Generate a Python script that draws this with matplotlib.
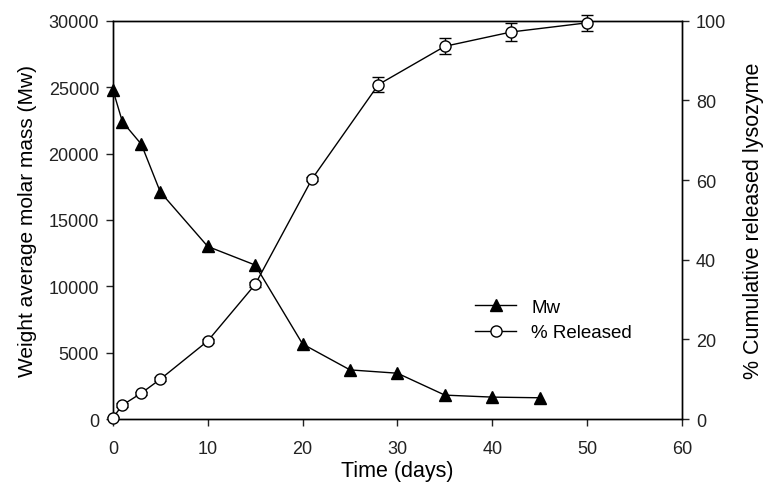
import matplotlib
matplotlib.use("Agg")
import matplotlib.pyplot as plt
from matplotlib.lines import Line2D

plt.rcParams['font.family'] = ['Liberation Sans', 'DejaVu Sans']

mw_days = [0, 1, 3, 5, 10, 15, 20, 25, 30, 35, 40, 45]
mw_vals = [24800, 22400, 20700, 17100, 13000, 11600, 5650, 3700, 3450, 1800, 1650, 1600]

rel_days = [0, 1, 3, 5, 10, 15, 21, 28, 35, 42, 50]
rel_vals = [0.3, 3.5, 6.5, 10.0, 19.6, 33.8, 60.3, 84.0, 93.6, 97.2, 99.5]
rel_err = [0.3, 0.4, 0.4, 0.5, 0.6, 0.6, 0.6, 2.0, 2.0, 2.2, 2.0]

fig = plt.figure(figsize=(7.68, 4.85), dpi=100)
ax = fig.add_axes([0.147, 0.134, 0.741, 0.821])
ax2 = ax.twinx()

ax.plot(mw_days, mw_vals, color='black', lw=1.0, marker='^', ms=8,
        mfc='black', mec='black', zorder=3, clip_on=False)
ax2.errorbar(rel_days, rel_vals, yerr=rel_err, color='black', lw=1.0,
             marker='o', ms=8, mfc='white', mec='black', mew=1.0,
             ecolor='black', elinewidth=1.0, capsize=4, capthick=1.0,
             zorder=3, clip_on=False)

ax.set_xlim(0, 60)
ax.set_ylim(0, 30000)
ax2.set_ylim(0, 100)
ax.set_xticks([0, 10, 20, 30, 40, 50, 60])
ax.set_yticks([0, 5000, 10000, 15000, 20000, 25000, 30000])
ax2.set_yticks([0, 20, 40, 60, 80, 100])

for a in (ax, ax2):
    a.tick_params(direction='out', length=5, width=1, labelsize=13, colors='#222222')
    for s in a.spines.values():
        s.set_linewidth(1.0)
ax.tick_params(axis='x', top=False, pad=10)
ax.tick_params(axis='y', pad=5)
ax2.tick_params(axis='y', pad=5)

ax.set_xlabel('Time (days)', fontsize=15.5, labelpad=2)
ax.set_ylabel('Weight average molar mass (Mw)', fontsize=15, labelpad=8)
ax2.set_ylabel('% Cumulative released lysozyme', fontsize=15.5, labelpad=12)

handles = [Line2D([], [], color='black', lw=1.0, marker='^', ms=8, mfc='black'),
           Line2D([], [], color='black', lw=1.0, marker='o', ms=8, mfc='white')]
ax2.legend(handles, ['Mw', '% Released'], loc='upper left',
           bbox_to_anchor=(0.607, 0.345), frameon=False, fontsize=13.5,
           handlelength=2.2, handletextpad=0.8, labelspacing=0.45)

fig.savefig('out.png', dpi=100)
